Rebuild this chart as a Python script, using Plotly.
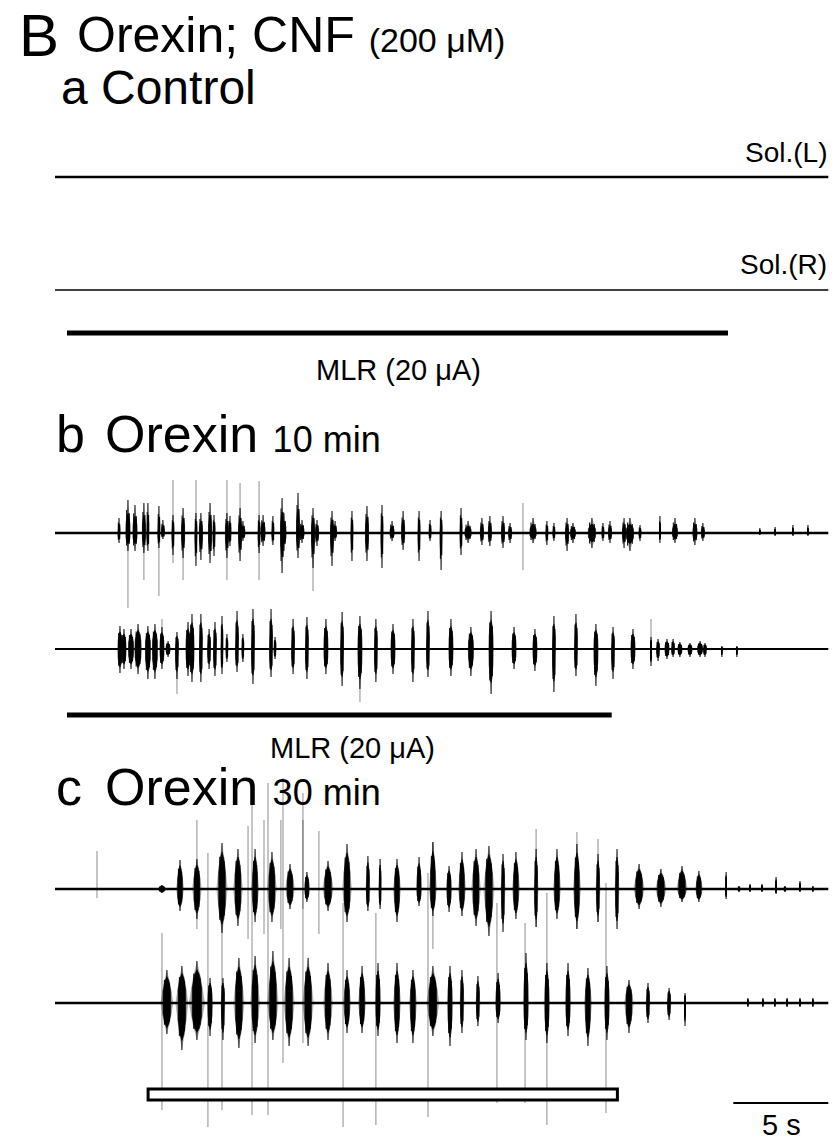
import plotly.graph_objects as go

W, H = 834, 1141

# ---------------- data (times in s, amplitudes in arbitrary units) ----------------
T_END = 40.7

# panel b, Sol.(L): burst centre, upward extent, downward extent, duration
bL_t = [3.37,3.84,4.21,4.68,4.89,5.47,5.68,6.21,6.74,7.42,7.68,8.16,8.37,9.05,9.21,9.74,9.89,10.74,10.95,11.47,
        11.95,12.05,12.79,13.0,13.58,13.79,14.58,14.74,15.63,16.42,17.21,17.74,18.32,19.16,19.74,20.32,21.37,21.74,
        22.47,22.89,23.58,23.95,25.16,25.89,26.26,26.95,27.26,28.26,28.84,29.21,29.95,30.26,30.79,31.84,32.63,33.68,
        34.1,37.1,37.9,38.84,39.63]
bL_up = [15,33,28,30,30,27,13,18,25,20,20,30,18,20,17,25,12,18,18,17,35,20,40,13,25,13,22,12,22,27,28,12,22,22,13,
         22,25,12,15,17,17,10,15,12,10,15,10,15,10,12,15,15,8,17,15,15,10,5,6,8,8]
bL_dn = [10,18,18,20,18,15,6,22,25,33,27,30,23,25,13,28,8,20,13,12,40,18,25,10,35,13,33,8,28,28,35,8,17,28,8,37,22,
         10,12,13,15,10,10,12,8,18,10,15,8,10,15,18,8,10,10,12,8,2,3,3,3]
bL_w = [0.11,0.21,0.21,0.16,0.11,0.11,0.16,0.11,0.16,0.11,0.16,0.16,0.11,0.16,0.11,0.16,0.21,0.11,0.21,0.11,
        0.16,0.21,0.16,0.21,0.16,0.16,0.16,0.16,0.11,0.16,0.11,0.21,0.16,0.11,0.11,0.11,0.11,0.32,0.16,0.16,
        0.16,0.16,0.32,0.11,0.11,0.16,0.26,0.37,0.11,0.16,0.16,0.37,0.11,0.05,0.26,0.21,0.16,0.05,0.05,0.05,0.05]
bL_spk_t = [3.84,4.68,5.47,6.21,6.74,7.42,9.05,9.74,10.74,13.58,24.63]
bL_spk_up = [0,0,0,53,0,53,53,50,52,0,30]
bL_spk_dn = [75,47,63,30,47,0,47,0,47,58,37]

# panel b, Sol.(R)
bR_t = [3.42,3.63,4.0,4.37,4.89,5.26,5.63,5.95,6.42,7.0,7.21,7.68,8.11,8.42,8.79,9.05,9.58,9.89,10.42,11.37,11.58,
        12.53,13.26,14.26,15.11,16.05,16.89,17.79,18.84,19.63,20.84,21.89,22.95,24.16,25.26,26.26,27.42,28.47,29.37,
        30.42,31.37,31.74,32.21,32.53,32.89,33.42,33.95,34.21,35.1,35.89]
bR_up = [23,20,20,25,23,25,22,8,17,27,35,35,20,27,33,15,38,15,40,40,12,30,32,30,37,33,30,25,30,38,30,22,38,22,20,
         33,35,25,22,20,12,10,10,10,7,6,8,6,3,3]
bR_dn = [24,20,20,25,30,30,20,8,30,27,33,33,20,27,25,13,23,13,35,28,10,25,30,25,37,40,33,25,33,28,27,27,45,20,22,
         43,27,37,30,20,17,12,10,8,8,8,8,8,8,8]
bR_w = [0.2,0.2,0.25,0.3,0.25,0.25,0.2,0.2,0.15,0.2,0.2,0.15,0.15,0.15,0.1,0.1,0.15,0.1,0.15,0.15,
        0.1,0.15,0.15,0.2,0.15,0.2,0.15,0.2,0.15,0.15,0.2,0.25,0.2,0.2,0.2,0.15,0.15,0.2,0.15,0.2,
        0.05,0.15,0.2,0.15,0.2,0.2,0.25,0.15,0.05,0.05]
bR_spk_t = [5.63,6.42,16.05,31.37]
bR_spk_up = [30,0,0,30]
bR_spk_dn = [0,45,53,0]

# panel c, Sol.(L)
cL_t = [5.63,6.58,7.47,8.79,9.63,10.53,11.42,12.37,13.26,14.37,15.37,16.47,17.11,18.0,19.16,19.89,20.74,21.42,22.16,
        22.84,23.58,24.26,25.32,26.42,27.47,28.58,29.58,30.74,31.89,33.0,33.89,35.32,36.0,36.58,37.21,37.95,38.42,
        39.21,39.89]
cL_up = [4,29,30,46,40,40,37,25,17,28,45,33,30,30,32,47,23,37,40,43,35,37,40,40,45,35,40,25,20,23,18,17,3,5,5,12,3,8,3]
cL_dn = [4,22,30,44,37,33,33,20,13,22,33,22,20,33,17,27,23,27,37,47,43,30,38,30,40,33,40,20,18,13,13,10,3,3,3,5,3,3,3]
cL_w = [0.3,0.25,0.3,0.35,0.3,0.25,0.3,0.3,0.2,0.35,0.3,0.15,0.1,0.25,0.2,0.25,0.2,0.25,0.3,0.35,
        0.15,0.25,0.15,0.25,0.25,0.15,0.15,0.35,0.35,0.35,0.25,0.05,0.1,0.05,0.05,0.05,0.1,0.05,0.05]
cL_spk_t = [2.21,7.47,10.16,11.0,11.89,13.05,13.89,19.89,25.32,27.47,28.58]
cL_spk_up = [38,69,63,69,69,69,58,47,60,57,50]
cL_spk_dn = [9,40,50,45,40,20,45,60,38,40,33]

# panel c, Sol.(R)
cR_t = [5.89,6.68,7.47,8.16,8.84,9.68,10.53,11.47,12.32,13.32,14.37,15.37,16.16,17.0,18.0,18.84,19.89,20.79,21.42,
        22.26,23.32,24.79,25.89,27.0,28.05,29.05,30.21,31.21,32.32,33.16,36.47,37.26,37.89,38.53,39.21,39.89]
cR_up = [33,37,42,25,25,45,47,52,45,45,40,33,37,40,40,33,37,37,33,27,30,50,40,40,35,37,23,20,15,10,5,5,5,5,5,5]
cR_dn = [31,47,37,33,37,45,40,37,43,43,37,30,30,33,40,40,33,43,30,23,20,37,40,33,43,37,30,20,17,23,4,4,4,4,4,4]
cR_w = [0.4,0.4,0.5,0.2,0.15,0.35,0.3,0.35,0.35,0.35,0.3,0.25,0.25,0.2,0.25,0.25,0.4,0.2,0.15,0.15,
        0.2,0.2,0.2,0.2,0.25,0.2,0.3,0.15,0.15,0.05,0.05,0.05,0.05,0.05,0.05,0.05]
cR_spk_t = [5.63,8.05,8.79,10.37,11.21,12.0,13.05,15.16,16.89,19.63,23.26,24.74,25.89,29.0]
cR_spk_up = [70,150,120,200,220,225,210,100,90,130,100,80,110,120]
cR_spk_dn = [107,124,107,112,112,60,40,124,122,114,100,100,122,110]

# stimulation periods (s)
MLR_a = [0.63, 35.42]
MLR_b = [0.63, 29.3]
MLR_c = [4.9, 29.6]
SCALE_S = 5

# ---------------- layout helpers ----------------
X0 = 55 / 19.0
def py(p):
    return 1 - p / H

rows = {  # name: (baseline px, below, above)
    "aL": (177, 100, 100),
    "aR": (290, 100, 100),
    "bL": (533, 110, 110),
    "bR": (649, 120, 120),
    "cL": (889, 120, 120),
    "cR": (1003, 136, 250),
}
axis_ids = {}
fig = go.Figure()
layout_axes = {}
for i, (name, (base, lo, hi)) in enumerate(rows.items()):
    idx = "" if i == 0 else str(i + 1)
    axis_ids[name] = "y" + idx
    layout_axes["yaxis" + idx] = dict(domain=[py(base + lo), py(base - hi)], range=[-lo, hi],
                                     visible=False, fixedrange=True, anchor="x")

def add_trace_row(name, bt, bu, bd, bw, st, su, sd, core, halo=1.2, base_w=2.0):
    ya = axis_ids[name]
    if bt:
        gx, gy, fx, fy, lx, ly = [], [], [], [], [], []
        for t, u, d, w in zip(bt, bu, bd, bw):
            cu, cd = core * u, core * d
            fx += [t - w / 2, t - w / 2, t - w / 4, t, t + w / 4, t + w / 2, t + w / 2,
                   t + w / 2, t + w / 4, t, t - w / 4, t - w / 2, t - w / 2, None]
            fy += [0, 0.45 * cu, 0.85 * cu, cu, 0.85 * cu, 0.45 * cu, 0,
                   -0.45 * cd, -0.85 * cd, -cd, -0.85 * cd, -0.45 * cd, 0, None]
            hw = w * halo / 2
            gx += [t - hw, t - hw / 2, t, t + hw / 2, t + hw, t + hw / 2, t, t - hw / 2, t - hw, None]
            gy += [0, 0.6 * u, u, 0.6 * u, 0, -0.6 * d, -d, -0.6 * d, 0, None]
            lx += [t, t, None, t - w / 3, t - w / 3, None, t + w / 3, t + w / 3, None]
            ly += [u, -d, None, 0.7 * u, -0.7 * d, None, 0.6 * u, -0.6 * d, None]
        fig.add_trace(go.Scatter(x=gx, y=gy, mode="lines", fill="toself", yaxis=ya,
                                 fillcolor="rgba(40,40,40,0.35)", line=dict(width=0), hoverinfo="skip"))
        fig.add_trace(go.Scatter(x=fx, y=fy, mode="lines", fill="toself", yaxis=ya,
                                 fillcolor="black", line=dict(color="black", width=0.6), hoverinfo="skip"))
        fig.add_trace(go.Scatter(x=lx, y=ly, mode="lines", yaxis=ya,
                                 line=dict(color="black", width=1), hoverinfo="skip"))
    if st:
        sx, sy = [], []
        for t, u, d in zip(st, su, sd):
            sx += [t, t, None]
            sy += [u, -d, None]
        fig.add_trace(go.Scatter(x=sx, y=sy, mode="lines", yaxis=ya,
                                 line=dict(color="rgba(0,0,0,0.45)", width=1), hoverinfo="skip"))
    fig.add_trace(go.Scatter(x=[0, T_END], y=[0, 0], mode="lines", yaxis=ya,
                             line=dict(color="black", width=base_w), hoverinfo="skip"))

add_trace_row("aL", [], [], [], [], [], [], [], 0, base_w=2.5)
add_trace_row("aR", [], [], [], [], [], [], [], 0, base_w=1.6)
add_trace_row("bL", bL_t, bL_up, bL_dn, bL_w, bL_spk_t, bL_spk_up, bL_spk_dn, 0.6, halo=1.3, base_w=2.4)
add_trace_row("bR", bR_t, bR_up, bR_dn, bR_w, bR_spk_t, bR_spk_up, bR_spk_dn, 0.75, halo=1.4, base_w=2.0)
add_trace_row("cL", cL_t, cL_up, cL_dn, cL_w, cL_spk_t, cL_spk_up, cL_spk_dn, 0.8, halo=1.7, base_w=2.4)
add_trace_row("cR", cR_t, cR_up, cR_dn, cR_w, cR_spk_t, cR_spk_up, cR_spk_dn, 0.8, halo=1.7, base_w=2.4)

shapes = [
    dict(type="line", xref="x", yref="paper", x0=MLR_a[0], x1=MLR_a[1], y0=py(333), y1=py(333),
         line=dict(color="black", width=5)),
    dict(type="line", xref="x", yref="paper", x0=MLR_b[0], x1=MLR_b[1], y0=py(715), y1=py(715),
         line=dict(color="black", width=5)),
    dict(type="rect", xref="x", yref="paper", x0=MLR_c[0], x1=MLR_c[1], y0=py(1100), y1=py(1089),
         line=dict(color="black", width=3), fillcolor="white", layer="above"),
    dict(type="line", xref="x", yref="paper", x0=T_END - SCALE_S, x1=T_END, y0=py(1103), y1=py(1103),
         line=dict(color="black", width=2)),
]

FONT = "Liberation Sans, Arial, sans-serif"
def ann(text, xpx, ybase, size, anchor="left"):
    return dict(text=text, x=xpx / W, y=py(ybase - 0.4 * size), xref="paper", yref="paper",
                xanchor=anchor, yanchor="middle", showarrow=False, borderpad=0,
                font=dict(family=FONT, size=size, color="black"))

annotations = [
    ann("B", 18, 59, 60),
    ann("Orexin; CNF <span style='font-size:34px'>(200 μM)</span>", 76, 55, 50),
    ann("a", 60, 107, 48),
    ann("Control", 100, 107, 48),
    ann("Sol.(L)", 828, 164, 28, "right"),
    ann("Sol.(R)", 828, 276, 28, "right"),
    ann("MLR (20 μA)", 398, 382, 29, "center"),
    ann("b", 55, 455, 52),
    ann("Orexin <span style='font-size:36px'>10 min</span>", 104, 455, 52),
    ann("MLR (20 μA)", 352, 760, 29, "center"),
    ann("c", 55, 808, 52),
    ann("Orexin <span style='font-size:36px'>30 min</span>", 104, 808, 52),
    ann("5 s", 781, 1137, 29, "center"),
]

fig.update_layout(
    width=W, height=H, autosize=False,
    margin=dict(l=0, r=0, t=0, b=0),
    paper_bgcolor="white", plot_bgcolor="rgba(0,0,0,0)",
    showlegend=False,
    xaxis=dict(range=[-X0, (W - 55) / 19.0], domain=[0, 1], visible=False, fixedrange=True, anchor="y"),
    shapes=shapes, annotations=annotations,
    **layout_axes,
)

fig.write_html("out.html", config={"displayModeBar": False},
               post_script="document.body.style.margin='0';document.body.style.padding='0';")
